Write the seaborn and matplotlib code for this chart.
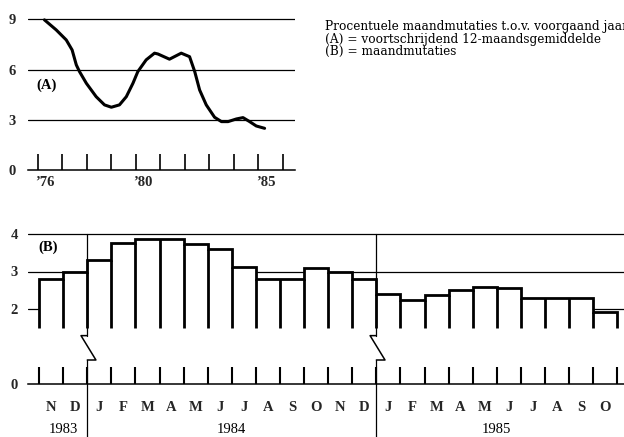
import numpy as np
import pandas as pd
import matplotlib
matplotlib.use("Agg")
import matplotlib.pyplot as plt
import seaborn as sns

jaar = [1976.27, 1976.75, 1977.16, 1977.40, 1977.57, 1977.70, 1977.98, 1978.38,
        1978.72, 1979.00, 1979.33, 1979.61, 1979.88, 1980.08, 1980.42, 1980.76,
        1980.90, 1981.37, 1981.85, 1982.19, 1982.40, 1982.60, 1982.87, 1983.21,
        1983.49, 1983.76, 1984.10, 1984.37, 1984.64, 1984.91, 1985.25]
gemiddelde = [8.97, 8.37, 7.77, 7.17, 6.28, 5.88, 5.18, 4.38, 3.89, 3.75, 3.89, 4.38,
              5.18, 5.88, 6.58, 6.98, 6.93, 6.62, 6.98, 6.77, 5.88, 4.78, 3.89, 3.15,
              2.89, 2.89, 3.05, 3.13, 2.89, 2.63, 2.49]
jaar_ticks = list(range(1976, 1987))
jaar_labels = ["\u201976", "\u201980", "\u201985"]
jaar_label_pos = [1976, 1980, 1985]

# (B) maandmutaties nov 1983 - okt 1985
maanden = ["N", "D",
           "J", "F", "M", "A", "M", "J", "J", "A", "S", "O", "N", "D",
           "J", "F", "M", "A", "M", "J", "J", "A", "S", "O"]
mutaties = [2.8, 3.0,
            3.32, 3.75, 3.88, 3.88, 3.73, 3.6, 3.11, 2.8, 2.8, 3.1, 3.0, 2.8,
            2.4, 2.25, 2.37, 2.51, 2.6, 2.55, 2.29, 2.29, 2.29, 1.91]
jaren = ["1983", "1984", "1985"]
jaar_start = [0, 2, 14]   # index van eerste maand per jaar

sns.set_theme(style="white")
plt.rcParams["font.family"] = ["Liberation Serif", "DejaVu Serif"]

fig = plt.figure(figsize=(6.24, 4.37), dpi=100)
W, H = 624, 437
ax1 = fig.add_axes([28 / W, 1 - 170 / H, 267 / W, 154 / H])
ax2 = fig.add_axes([28 / W, 1 - 384 / H, 596 / W, 153.75 / H])

lab = dict(fontsize=10.5, fontweight="bold", color="black")

# ---- bovenste grafiek (A)
for g in [3, 6, 9]:
    ax1.axhline(g, color="black", lw=0.9, zorder=1)
sns.lineplot(x=jaar, y=gemiddelde, ax=ax1, color="black", linewidth=2.2,
             solid_capstyle="round", solid_joinstyle="round", zorder=3)
ax1.set_xlim(1975.6, 1986.49)
ax1.set_ylim(0, 9.2)
ax1.set_xticks(jaar_ticks)
ax1.set_xticklabels([])
ax1.set_xticks([j + 0.3 for j in jaar_label_pos], jaar_labels, minor=True)
ax1.tick_params(axis="x", which="major", direction="in", length=11.5, width=1.2,
                color="black", bottom=True)
ax1.tick_params(axis="x", which="minor", length=0, pad=4, labelsize=10.5)
ax1.set_yticks([0, 3, 6, 9])
ax1.tick_params(axis="y", length=0, pad=8.6, labelsize=10.5)
ax1.text(1976.36, 5.08, "(A)", ha="center", va="center", **lab)

# ---- onderste grafiek (B)
randen = np.arange(len(mutaties) + 1)
for g in [2, 3, 4]:
    ax2.axhline(g, color="black", lw=0.9, zorder=1)
ax2.stairs(mutaties, randen, baseline=1.5, fill=True, color="white", zorder=2)
ax2.stairs(mutaties, randen, baseline=1.5, fill=False, color="black", lw=2.0, zorder=3)
binnen = randen[1:-1]
laag = np.minimum(mutaties[:-1], mutaties[1:])
ax2.vlines(binnen, 1.5, laag, color="black", lw=2.0, zorder=3)

# jaargrenzen met onderbrekingsteken
for b in jaar_start[1:]:
    ax2.plot([b, b], [1.29, 4], color="black", lw=0.9, zorder=4)
    ax2.plot([b, b], [0.64, -1.6], color="black", lw=0.9, zorder=4, clip_on=False)
    ax2.plot([b, b - 0.26, b + 0.36, b], [1.29, 1.29, 0.64, 0.64],
             color="black", lw=1.1, zorder=4)

ax2.set_xlim(-0.46, 24.28)
ax2.set_ylim(0, 4.1)
ax2.set_xticks(randen)
ax2.set_xticklabels([])
ax2.set_xticks(randen[:-1] + 0.5, maanden, minor=True)
ax2.tick_params(axis="x", which="major", direction="in", length=12.5, width=1.5,
                color="black", bottom=True)
ax2.tick_params(axis="x", which="minor", length=0, pad=12, labelsize=10.5)
ax2.set_yticks([0, 2, 3, 4])
ax2.tick_params(axis="y", length=0, pad=7.2, labelsize=10.5)
ax2.text(0.37, 3.64, "(B)", ha="center", va="center", **lab)

jaar_eind = jaar_start[1:] + [len(mutaties)]
for naam, s, e in zip(jaren, jaar_start, jaar_eind):
    ax2.text((s + e) / 2, -1.05, naam, ha="center", va="top", clip_on=False,
             fontsize=10.5, color="black")

for ax in (ax1, ax2):
    for side in ["top", "left", "right"]:
        ax.spines[side].set_visible(False)
    ax.spines["bottom"].set_color("black")
    ax.spines["bottom"].set_linewidth(1.1)
    ax.grid(False)
    ax.set_facecolor("none")
    for t in ax.get_xticklabels(which="both") + ax.get_yticklabels():
        t.set_fontweight("bold")

# toelichting
regels = ["Procentuele maandmutaties t.o.v. voorgaand jaar",
          "(A) = voortschrijdend 12-maandsgemiddelde",
          "(B) = maandmutaties"]
for k, r in enumerate(regels):
    fig.text(325 / W, 1 - (30 + 12.6 * k) / H, r, fontsize=8.7,
             family=["DejaVu Serif"], va="baseline", ha="left", color="black")

fig.savefig("out.png", dpi=100)
